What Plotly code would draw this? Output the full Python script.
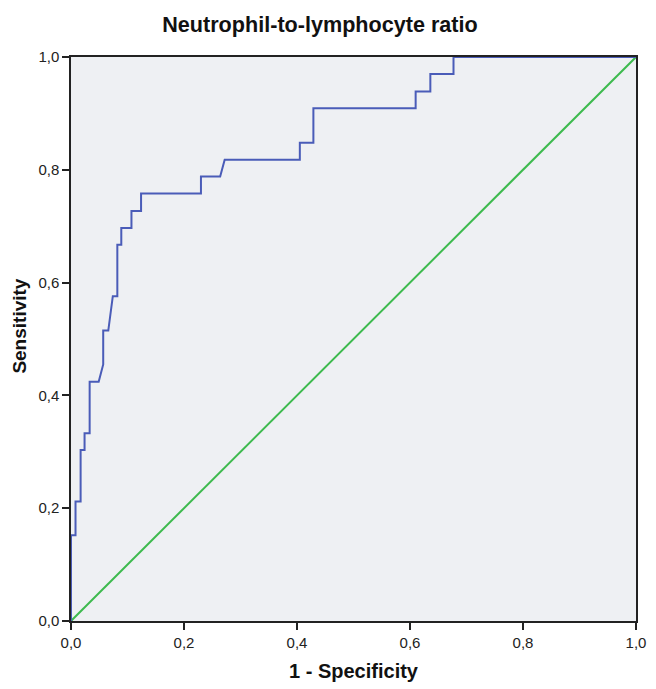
import plotly.graph_objects as go

# ROC curve points (1 - specificity, sensitivity)
fpr = [0.0, 0.0, 0.008, 0.008, 0.017, 0.017, 0.024, 0.024, 0.033, 0.033,
       0.049, 0.057, 0.057, 0.066, 0.074, 0.082, 0.082, 0.089, 0.089, 0.107,
       0.107, 0.124, 0.124, 0.230, 0.230, 0.264, 0.272, 0.405, 0.405, 0.429,
       0.429, 0.610, 0.610, 0.636, 0.636, 0.677, 0.677, 1.0]
tpr = [0.0, 0.152, 0.152, 0.212, 0.212, 0.303, 0.303, 0.333, 0.333, 0.424,
       0.424, 0.455, 0.515, 0.515, 0.576, 0.576, 0.667, 0.667, 0.697, 0.697,
       0.727, 0.727, 0.758, 0.758, 0.788, 0.788, 0.818, 0.818, 0.848, 0.848,
       0.909, 0.909, 0.939, 0.939, 0.970, 0.970, 1.0, 1.0]
ref_x = [0.0, 1.0]
ref_y = [0.0, 1.0]
tick_vals = [0.0, 0.2, 0.4, 0.6, 0.8, 1.0]

FONT = "Arial, Liberation Sans, sans-serif"
W, H = 656, 689
L, R, T, B = 71, 10, 57, 59
PW, PH = W - L - R, H - T - B

fig = go.Figure()
fig.add_trace(go.Scatter(x=ref_x, y=ref_y, mode="lines",
                         line=dict(color="#3dba4e", width=2), hoverinfo="skip"))
fig.add_trace(go.Scatter(x=fpr, y=tpr, mode="lines",
                         line=dict(color="#4a5cb8", width=2)))

axis_common = dict(
    range=[0, 1], tickvals=tick_vals, tickformat=".1f",
    showgrid=False, zeroline=False, showline=True, linecolor="#222222",
    linewidth=1.5, mirror=True, ticks="outside", ticklen=7, tickwidth=1.5,
    tickcolor="#222222", tickfont=dict(size=15, color="#222222", family=FONT),
)

fig.update_layout(
    width=W, height=H,
    margin=dict(l=L, r=R, t=T, b=B),
    paper_bgcolor="white", plot_bgcolor="#eef0f3",
    separators=", ",
    showlegend=False,
    font=dict(family=FONT, color="#111111"),
    title=dict(text="<b>Neutrophil-to-lymphocyte ratio</b>", xref="container",
               x=320 / W, xanchor="center", yref="container", y=1 - 24 / H,
               yanchor="middle", font=dict(size=21.6, family=FONT, color="#111111")),
    xaxis=dict(axis_common, title=dict(text="<b>1 - Specificity</b>",
                                       font=dict(size=20, family=FONT), standoff=14)),
    yaxis=dict(axis_common),
    annotations=[dict(text="<b>Sensitivity</b>", textangle=-90, showarrow=False,
                      xref="paper", yref="paper",
                      x=(19 - L) / PW, y=(H - B - 330) / PH,
                      xanchor="center", yanchor="middle",
                      font=dict(size=19, family=FONT, color="#111111"))],
)

# remove the default page margin so the figure fills the window exactly
fig.write_html("out.html", config={"displayModeBar": False},
               post_script="document.body.style.margin='0';"
                           "document.body.style.overflow='hidden';")
